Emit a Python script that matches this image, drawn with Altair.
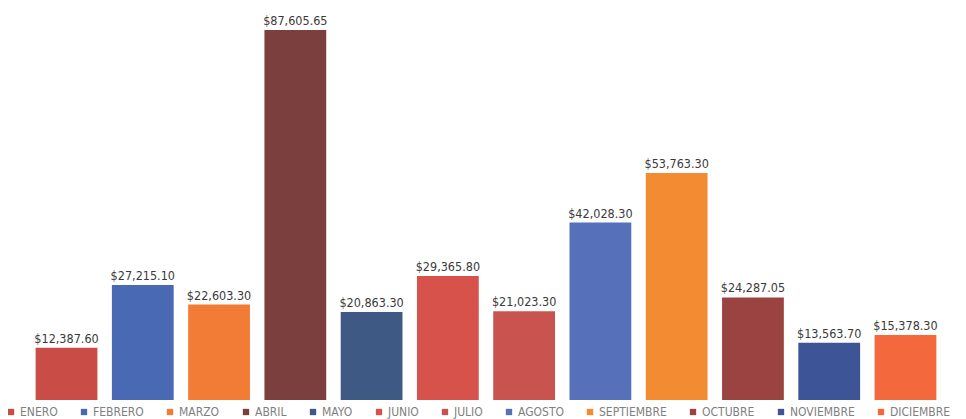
import altair as alt
import pandas as pd

months = ["ENERO", "FEBRERO", "MARZO", "ABRIL", "MAYO", "JUNIO", "JULIO",
          "AGOSTO", "SEPTIEMBRE", "OCTUBRE", "NOVIEMBRE", "DICIEMBRE"]
values = [12387.60, 27215.10, 22603.30, 87605.65, 20863.30, 29365.80, 21023.30,
          42028.30, 53763.30, 24287.05, 13563.70, 15378.30]
colors = ["#c94c47", "#4a69b4", "#f27b36", "#7b3f3d", "#3e5a84", "#d6524a", "#c9544f",
          "#5670ba", "#f38b33", "#9b4341", "#3d5597", "#f3683d"]

df = pd.DataFrame({"mes": months, "valor": values})
df["label"] = df["valor"].map(lambda v: "${:,.2f}".format(v))

FONT = "DejaVu Sans Condensed, Liberation Sans, sans-serif"

x = alt.X("mes:N", sort=months, axis=None,
          scale=alt.Scale(paddingInner=0.19, paddingOuter=0.1))
y = alt.Y("valor:Q", axis=None, scale=alt.Scale(domain=[0, 90000], nice=False))

bars = alt.Chart(df).mark_bar().encode(
    x=x, y=y,
    color=alt.Color("mes:N", sort=months,
                    scale=alt.Scale(domain=months, range=colors),
                    legend=alt.Legend(orient="none", direction="horizontal",
                                      legendX=-23, legendY=386, title=None,
                                      symbolType="square", symbolSize=40,
                                      labelFontSize=12, labelColor="#808080",
                                      labelFont=FONT,
                                      columnPadding=20, symbolOffset=0,
                                      labelOffset=3)),
)

labels = alt.Chart(df).mark_text(dy=-9, fontSize=12.5, color="#3a3a3a",
                                 font=FONT).encode(
    x=x, y=y, text="label:N")

chart = (bars + labels).properties(
    width=916, height=380,
    autosize=alt.AutoSizeParams(type="none"),
    padding={"left": 20, "top": 12, "right": 14, "bottom": 20},
).configure_view(stroke=None)

chart.save("out.html", embed_options={"renderer": "svg", "actions": False})
